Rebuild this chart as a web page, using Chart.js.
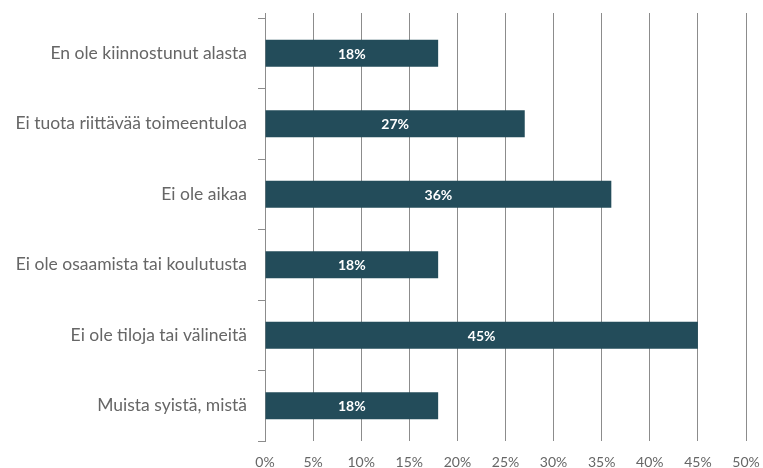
<!DOCTYPE html>
<html>
<head>
<meta charset="utf-8">
<script src="https://cdn.jsdelivr.net/npm/chart.js@4"></script>
<style>
html,body{margin:0;padding:0;background:#fff;}
#wrap{width:763px;height:468px;position:relative;}
</style>
</head>
<body>
<div id="wrap"><canvas id="c" width="763" height="468"></canvas></div>
<script>
const categories = [
  "En ole kiinnostunut alasta",
  "Ei tuota riittävää toimeentuloa",
  "Ei ole aikaa",
  "Ei ole osaamista tai koulutusta",
  "Ei ole tiloja tai välineitä",
  "Muista syistä, mistä"
];
const values = [18, 27, 36, 18, 45, 18];
const valueLabels = ["18%", "27%", "36%", "18%", "45%", "18%"];
const axisMin = 0, axisMax = 50, axisStep = 5;

const gridColor = '#8c8c8c';
const textColor = '#666666';
const fontFamily = 'Lato, "Open Sans", sans-serif';

const barLabels = {
  id: 'barLabels',
  afterDatasetsDraw(chart) {
    const ctx = chart.ctx;
    const meta = chart.getDatasetMeta(0);
    ctx.save();
    ctx.fillStyle = '#ffffff';
    ctx.font = 'bold 14px ' + fontFamily;
    ctx.textAlign = 'center';
    ctx.textBaseline = 'middle';
    meta.data.forEach((bar, i) => {
      const cx = (bar.x + bar.base) / 2;
      ctx.fillText(valueLabels[i], cx, bar.y + 1);
    });
    ctx.restore();
  }
};

new Chart(document.getElementById('c'), {
  type: 'bar',
  data: {
    labels: categories,
    datasets: [{
      data: values,
      backgroundColor: '#234c5a',
      borderWidth: 0,
      categoryPercentage: 0.385,
      barPercentage: 1
    }]
  },
  options: {
    indexAxis: 'y',
    responsive: false,
    animation: false,
    layout: { padding: { left: 0, right: 17, top: 0, bottom: 0 } },
    plugins: { legend: { display: false }, tooltip: { enabled: false }, title: { display: false } },
    scales: {
      x: {
        position: 'bottom',
        min: axisMin, max: axisMax,
        ticks: {
          stepSize: axisStep,
          callback: v => v + '%',
          color: textColor,
          font: { family: fontFamily, size: 14 },
          padding: 13
        },
        grid: { color: gridColor, drawTicks: false, lineWidth: 1 },
        border: { display: false },
        afterFit: s => { s.height = 27; s.paddingRight = 0; s.paddingLeft = 0; }
      },
      x2: {
        position: 'top',
        min: axisMin, max: axisMax,
        ticks: { stepSize: axisStep, display: false },
        grid: { color: gridColor, drawOnChartArea: false, drawTicks: true, tickLength: 5 },
        border: { display: false },
        afterFit: s => { s.height = 18; s.paddingRight = 0; s.paddingLeft = 0; }
      },
      y: {
        position: 'left',
        ticks: {
          color: textColor,
          font: { family: fontFamily, size: 17.5 },
          padding: 11
        },
        grid: { color: gridColor, drawOnChartArea: false, drawTicks: true, tickLength: 7, offset: true },
        border: { display: true, color: gridColor },
        afterFit: s => { s.width = 265; s.paddingTop = 0; s.paddingBottom = 0; }
      }
    }
  },
  plugins: [barLabels]
});
</script>
</body>
</html>
